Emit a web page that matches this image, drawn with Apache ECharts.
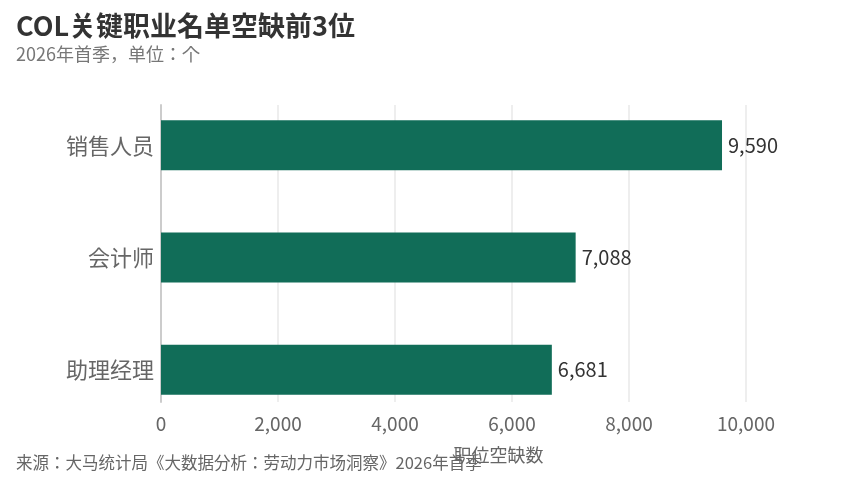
<!DOCTYPE html>
<html>
<head>
<meta charset="utf-8">
<script src="https://cdn.jsdelivr.net/npm/echarts@6/dist/echarts.min.js"></script>
<style>
  html, body { margin: 0; padding: 0; background: #fff; }
  #chart { width: 849px; height: 486px; }
</style>
</head>
<body>
<div id="chart"></div>
<script>
const categories = ['销售人员', '会计师', '助理经理'];
const vacancies = [9590, 7088, 6681];
const xTicks = [0, 2000, 4000, 6000, 8000, 10000];

const FONT = '"Noto Sans CJK JP", "Noto Sans CJK SC", "Noto Sans", sans-serif';
const fmt = v => v.toLocaleString('en-US');

const chart = echarts.init(document.getElementById('chart'));

chart.setOption({
  backgroundColor: '#ffffff',
  animation: false,
  textStyle: { fontFamily: FONT },
  title: [
    {
      text: 'COL关键职业名单空缺前3位',
      left: 16,
      top: 12,
      padding: 0,
      textStyle: { fontSize: 27, fontWeight: 'bold', color: '#333333', fontFamily: FONT }
    },
    {
      text: '2026年首季，单位：个',
      left: 16,
      top: 45,
      padding: 0,
      textStyle: { fontSize: 18, fontWeight: 'normal', color: '#777777', fontFamily: FONT }
    },
    {
      text: '来源：大马统计局《大数据分析：劳动力市场洞察》2026年首季',
      left: 16,
      top: 454,
      padding: 0,
      textStyle: { fontSize: 16.5, fontWeight: 'normal', color: '#666666', fontFamily: FONT }
    }
  ],
  grid: [
    // bars
    { left: 161, right: 103, top: 89, bottom: 60 },
    // gridlines, ticks and axis line
    { left: 161, right: 103, top: 105, bottom: 84 }
  ],
  xAxis: [
    {
      gridIndex: 0,
      type: 'value',
      min: xTicks[0],
      max: xTicks[xTicks.length - 1],
      show: false
    },
    {
      gridIndex: 1,
      type: 'value',
      min: xTicks[0],
      max: xTicks[xTicks.length - 1],
      interval: 2000,
      axisLine: { show: false },
      axisTick: { show: false },
      splitLine: { show: true, lineStyle: { color: '#e8e8e8', width: 1.5 } },
      axisLabel: {
        formatter: fmt,
        fontSize: 19,
        color: '#666666',
        margin: 12,
        fontFamily: FONT
      },
      name: '职位空缺数',
      nameLocation: 'middle',
      nameGap: 44,
      nameTextStyle: { fontSize: 18, color: '#666666', padding: [0, 0, 0, 90], fontFamily: FONT }
    }
  ],
  yAxis: [
    {
      gridIndex: 0,
      type: 'category',
      data: categories,
      inverse: true,
      axisLine: { show: false },
      axisTick: { show: false },
      axisLabel: { fontSize: 22, color: '#666666', margin: 7, fontFamily: FONT }
    },
    {
      gridIndex: 1,
      type: 'value',
      axisLine: { show: true, lineStyle: { color: '#cccccc', width: 2 } },
      axisTick: { show: false },
      axisLabel: { show: false },
      splitLine: { show: false }
    }
  ],
  series: [
    {
      type: 'bar',
      xAxisIndex: 0,
      yAxisIndex: 0,
      data: vacancies,
      barWidth: 50,
      z: 5,
      itemStyle: { color: '#116d58' },
      label: {
        show: true,
        position: 'right',
        distance: 6,
        formatter: p => fmt(p.value),
        fontSize: 20,
        color: '#333333',
        fontFamily: FONT
      }
    }
  ]
});
</script>
</body>
</html>
